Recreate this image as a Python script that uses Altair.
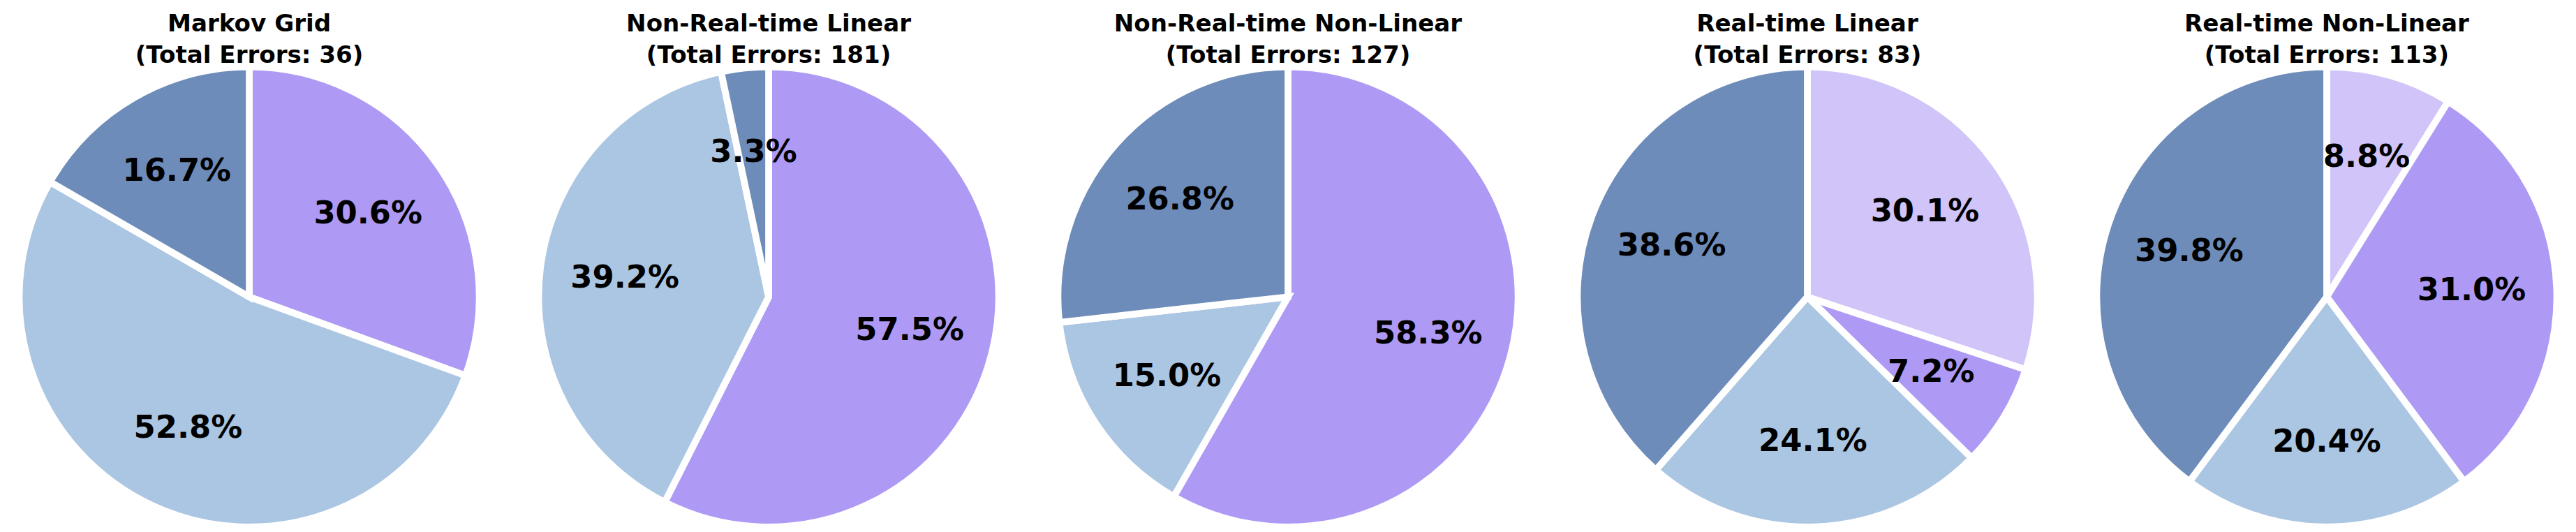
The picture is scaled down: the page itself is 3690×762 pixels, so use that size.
import altair as alt
import pandas as pd

# Panels and their error counts per category (clockwise from 12 o'clock)
panels = [
    "Markov Grid",
    "Non-Real-time Linear",
    "Non-Real-time Non-Linear",
    "Real-time Linear",
    "Real-time Non-Linear",
]
categories = ["Category A", "Category B", "Category C", "Category D"]
colors = ["#D1C4F9", "#AE9AF4", "#ABC6E2", "#6D8CBA"]

counts_markov = [0, 11, 19, 6]
counts_nrt_lin = [0, 104, 71, 6]
counts_nrt_nonlin = [0, 74, 19, 34]
counts_rt_lin = [25, 6, 20, 32]
counts_rt_nonlin = [10, 35, 23, 45]

all_counts = [counts_markov, counts_nrt_lin, counts_nrt_nonlin, counts_rt_lin, counts_rt_nonlin]

FONT = "DejaVu Sans"
W, H = 696, 746
CX, CY = 348, 417
R = 338

def panel(name, counts):
    total = sum(counts)
    df = pd.DataFrame({
        "category": categories,
        "idx": list(range(len(categories))),
        "count": counts,
    })
    df = df[df["count"] > 0]
    base = alt.Chart(df).transform_joinaggregate(
        total="sum(count)"
    ).transform_calculate(
        frac="datum.count / datum.total"
    ).encode(
        theta=alt.Theta("count:Q", stack=True),
        order=alt.Order("idx:Q"),
    )
    arcs = base.mark_arc(
        outerRadius=R, stroke="white", strokeWidth=10, strokeJoin="miter",
        x=CX, y=CY,
    ).encode(
        color=alt.Color("category:N", scale=alt.Scale(domain=categories, range=colors), legend=None),
    )
    labels = base.mark_text(
        radius=213, x=CX, y=CY, font=FONT, fontSize=46, fontWeight="bold",
        color="black", align="center", baseline="middle",
    ).encode(
        text=alt.Text("frac:Q", format=".1%"),
    )
    tdf = pd.DataFrame({"line": [name, f"(Total Errors: {total})"], "yy": [27, 73]})
    titles = alt.Chart(tdf).mark_text(
        font=FONT, fontSize=35, fontWeight="bold", color="black",
        align="center", baseline="alphabetic", x=CX,
    ).encode(
        y=alt.Y("yy:Q", scale=alt.Scale(domain=[0, H], range=[0, H]), axis=None),
        text="line:N",
    )
    return alt.layer(arcs, labels, titles).properties(width=W, height=H)

charts = [panel(n, c) for n, c in zip(panels, all_counts)]
chart = alt.hconcat(*charts, spacing=47).properties(
    padding=0, background="white"
).configure_view(
    strokeWidth=0, stroke="transparent"
)

chart.save("out.html", embed_options={"renderer": "svg", "actions": False})
